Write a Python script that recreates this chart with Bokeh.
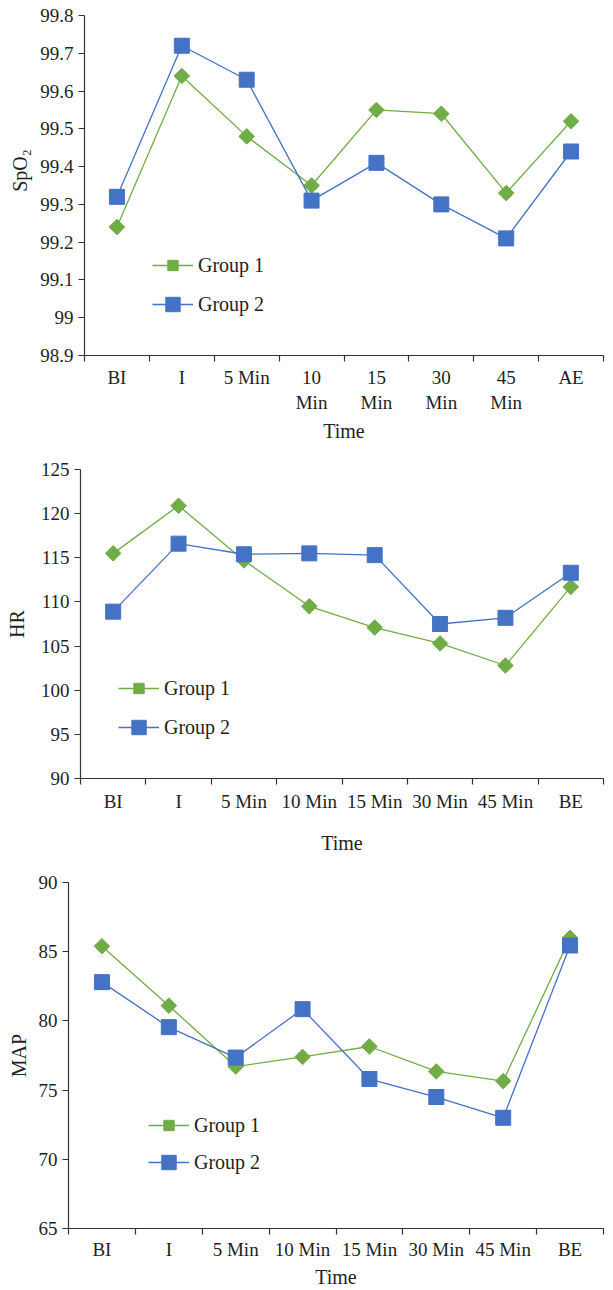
import numpy as np
from bokeh.plotting import figure
from bokeh.models import FixedTicker, CustomJSTickFormatter, Legend, LegendItem, Range1d
from bokeh.embed import file_html
from bokeh.resources import INLINE

# ---------------- data ----------------
spo2_labels = ["BI", "I", "5 Min", "10\nMin", "15\nMin", "30\nMin", "45\nMin", "AE"]
spo2_g1 = [99.24, 99.64, 99.48, 99.35, 99.55, 99.54, 99.33, 99.52]
spo2_g2 = [99.32, 99.72, 99.63, 99.31, 99.41, 99.30, 99.21, 99.44]
spo2_yticks = [98.9, 99.0, 99.1, 99.2, 99.3, 99.4, 99.5, 99.6, 99.7, 99.8]

hr_labels = ["BI", "I", "5 Min", "10 Min", "15 Min", "30 Min", "45 Min", "BE"]
hr_g1 = [115.5, 120.9, 114.7, 109.5, 107.1, 105.3, 102.8, 111.7]
hr_g2 = [108.9, 116.6, 115.4, 115.5, 115.3, 107.5, 108.2, 113.3]
hr_yticks = [90, 95, 100, 105, 110, 115, 120, 125]

map_labels = ["BI", "I", "5 Min", "10 Min", "15 Min", "30 Min", "45 Min", "BE"]
map_g1 = [85.4, 81.1, 76.7, 77.4, 78.15, 76.35, 75.65, 86.0]
map_g2 = [82.8, 79.55, 77.35, 80.85, 75.8, 74.5, 73.0, 85.45]
map_yticks = [65, 70, 75, 80, 85, 90]

series_names = ["Group 1", "Group 2"]
x_title = "Time"

# ---------------- style ----------------
FONT = "Liberation Serif"
FS = "19px"
LFS = "20px"
TXT = "#231f20"
AX = "#333333"
GREEN = "#70AD47"
BLUE = "#4472C4"

fmt = CustomJSTickFormatter(code="""
var s = tick.toFixed(1);
if (s.endsWith('.0')) { s = s.slice(0, -2); }
return s;
""")


def make_legend(item, glyph_h, loc):
    lg = Legend(items=[item], location=loc)
    lg.background_fill_alpha = 0
    lg.border_line_color = None
    lg.padding = 0
    lg.margin = 0
    lg.glyph_width = 41
    lg.glyph_height = glyph_h
    lg.label_height = glyph_h
    lg.spacing = 0
    lg.label_standoff = 5
    lg.label_text_font = FONT
    lg.label_text_font_size = LFS
    lg.label_text_color = TXT
    return lg


def make_chart(labels, g1, g2, yticks, ylabel, height, border_top, border_bottom,
               border_left, tick_standoff, leg_x, leg_g_bottom, leg_b_bottom,
               ylab_standoff, time_standoff):
    n = len(labels)
    p = figure(width=605, height=height, output_backend="svg", toolbar_location=None,
               x_range=Range1d(0, n), y_range=Range1d(yticks[0], yticks[-1]),
               min_border_top=border_top, min_border_bottom=border_bottom,
               min_border_left=border_left, min_border_right=2)
    p.outline_line_color = None
    p.xgrid.grid_line_color = None
    p.ygrid.grid_line_color = None
    p.background_fill_color = "white"
    p.border_fill_color = "white"

    xs = [i + 0.5 for i in range(n)]
    l1 = p.line(xs, g1, line_color=GREEN, line_width=1.3)
    s1 = p.scatter(xs, g1, marker="square", angle=np.pi / 4, size=11,
                   fill_color=GREEN, line_color=GREEN)
    l2 = p.line(xs, g2, line_color=BLUE, line_width=1.3)
    s2 = p.scatter(xs, g2, marker="square", size=15,
                   fill_color=BLUE, line_color=BLUE)

    # x axis
    xa = p.xaxis[0]
    xa.ticker = FixedTicker(ticks=xs, minor_ticks=list(range(n + 1)))
    xa.major_label_overrides = {x: lab for x, lab in zip(xs, labels)}
    xa.major_tick_line_color = None
    xa.major_tick_out = 0
    xa.major_tick_in = 0
    xa.minor_tick_line_color = AX
    xa.minor_tick_line_width = 1.2
    xa.minor_tick_out = 6
    xa.minor_tick_in = 0
    xa.major_label_standoff = tick_standoff
    xa.major_label_text_font = FONT
    xa.major_label_text_font_size = FS
    xa.major_label_text_color = TXT
    xa.axis_line_color = AX
    xa.axis_line_width = 1.2
    xa.axis_label = x_title
    xa.axis_label_text_font = FONT
    xa.axis_label_text_font_size = LFS
    xa.axis_label_text_font_style = "normal"
    xa.axis_label_text_color = TXT
    xa.axis_label_standoff = time_standoff

    # y axis
    ya = p.yaxis[0]
    ya.ticker = FixedTicker(ticks=yticks, minor_ticks=[])
    ya.formatter = fmt
    ya.major_tick_out = 6
    ya.major_tick_in = 0
    ya.major_tick_line_color = AX
    ya.major_tick_line_width = 1.2
    ya.minor_tick_line_color = None
    ya.major_label_standoff = 5
    ya.major_label_text_font = FONT
    ya.major_label_text_font_size = FS
    ya.major_label_text_color = TXT
    ya.axis_line_color = AX
    ya.axis_line_width = 1.2
    ya.axis_label = ylabel
    ya.axis_label_text_font = FONT
    ya.axis_label_text_font_size = LFS
    ya.axis_label_text_font_style = "normal"
    ya.axis_label_text_color = TXT
    ya.axis_label_standoff = ylab_standoff

    p.add_layout(make_legend(LegendItem(label=series_names[0], renderers=[l1, s1]),
                             26, (leg_x, leg_g_bottom)))
    p.add_layout(make_legend(LegendItem(label=series_names[1], renderers=[l2, s2]),
                             36, (leg_x, leg_b_bottom)))
    return p


p1 = make_chart(spo2_labels, spo2_g1, spo2_g2, spo2_yticks,
                "\u00a0" * 6 + "SpO₂", 444, 15, 89, 84, 5, 68, 77, 33, 6, 4)
p2 = make_chart(hr_labels, hr_g1, hr_g2, hr_yticks, "HR", 416,
                25, 82, 80, 6, 38, 77, 33, 10, 17)
p3 = make_chart(map_labels, map_g1, map_g2, map_yticks, "MAP", 430,
                22, 62, 68, 4, 80, 90, 48, 6, 3)

open("out.html", "w").write(file_html([p1, p2, p3], INLINE))
